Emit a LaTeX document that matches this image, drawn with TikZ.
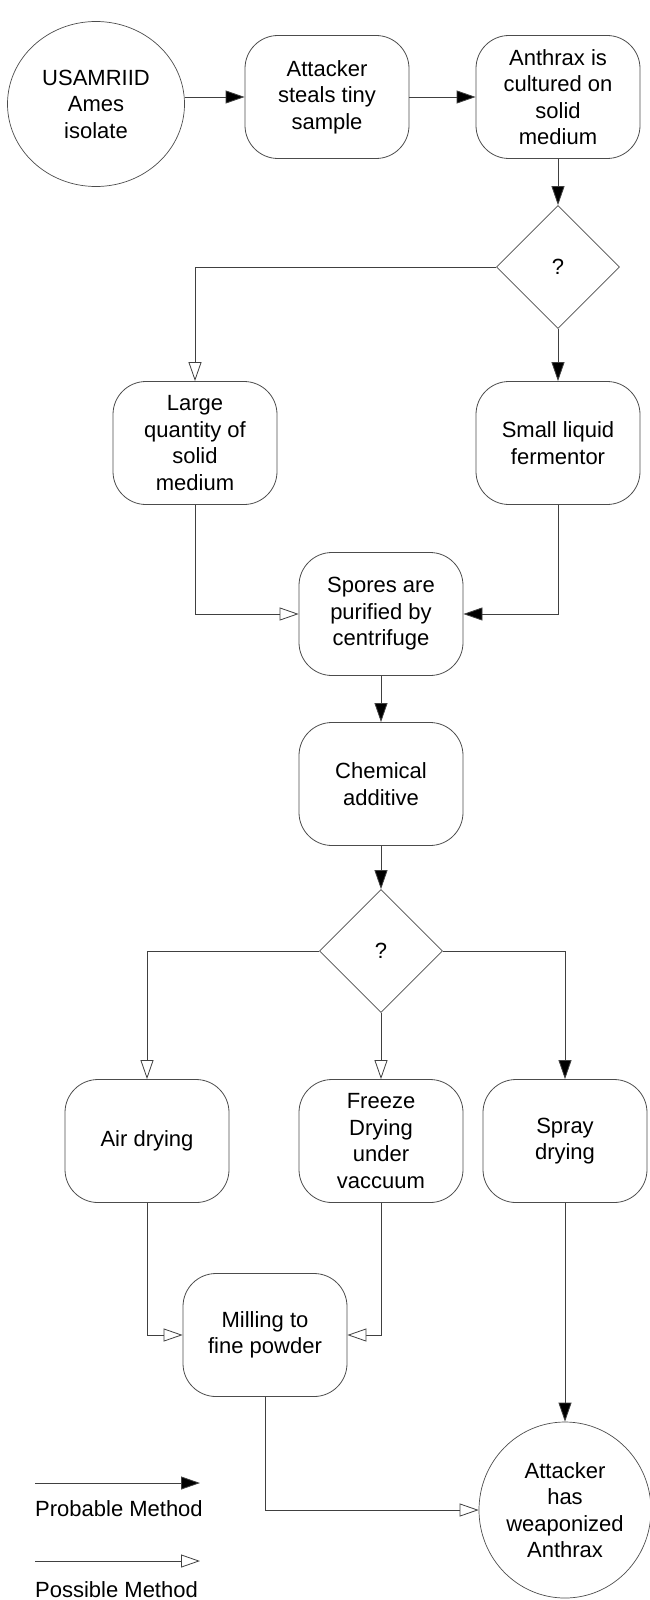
\documentclass[tikz,border=0pt]{standalone}
\usepackage{fontspec}
\setmainfont{Liberation Sans}
\usetikzlibrary{positioning, arrows.meta, shapes.geometric}

\newcommand{\flowfont}{\fontsize{22}{26.5}\selectfont}

\tikzset{
	stepbox/.style={draw=black!70, line width=0.8pt, rounded corners=33pt, minimum width=164pt, minimum height=123pt, align=center, inner sep=0pt, font=\flowfont},
	startend/.style={ellipse, draw=black!70, line width=0.7pt, align=center, inner sep=0pt, font=\flowfont},
	choice/.style={diamond, draw=black!70, line width=0.7pt, minimum width=123pt, minimum height=123pt, inner sep=0pt, font=\flowfont},
	probable/.style={draw=black!75, line width=0.8pt, -{Triangle[length=19pt, width=13pt, fill=black]}},
	possible/.style={draw=black!75, line width=0.8pt, -{Triangle[open, length=19pt, width=13pt, fill=white]}},
	legendtext/.style={anchor=west, inner sep=0pt, font=\flowfont},
}

\begin{document}
\begin{tikzpicture}[x=1pt, y=-1pt]
	\useasboundingbox (0,0) rectangle (650,1600);
	% first row
	\node[startend, minimum width=177pt, minimum height=165pt] (ames) at (96,104) {USAMRIID\\Ames\\isolate};
	\node[stepbox] (steal) at (327,97) {Attacker\\steals tiny\\sample};
	\node[stepbox] (culture) at (558,97) {Anthrax is\\cultured on\\solid\\medium};
	\node[choice] (q1) at (558,267) {?};
	% growing
	\node[stepbox] (large) at (195,443) {Large\\quantity of\\solid\\medium};
	\node[stepbox] (ferment) at (558,443) {Small liquid\\fermentor};
	\node[stepbox] (spores) at (381,614) {Spores are\\purified by\\centrifuge};
	\node[stepbox] (chem) at (381,784) {Chemical\\additive};
	\node[choice] (q2) at (381,951) {?};
	% drying
	\node[stepbox] (air) at (147,1141) {Air drying};
	\node[stepbox] (freeze) at (381,1141) {Freeze\\Drying\\under\\vaccuum};
	\node[stepbox] (spray) at (565,1141) {Spray\\drying};
	\node[stepbox] (mill) at (265,1335) {Milling to\\fine powder};
	\node[startend, minimum width=172pt, minimum height=176pt] (done) at (565,1510) {Attacker\\has\\weaponized\\Anthrax};

	\draw[probable] (ames.east |- steal) -- (steal);
	\draw[probable] (steal) -- (culture);
	\draw[probable] (culture) -- (q1);
	\draw[possible] (q1.west) -| (large);
	\draw[probable] (q1) -- (ferment);
	\draw[possible] (large) |- (spores);
	\draw[probable] (ferment) |- (spores);
	\draw[probable] (spores) -- (chem);
	\draw[probable] (chem) -- (q2);
	\draw[possible] (q2.west) -| (air);
	\draw[possible] (q2) -- (freeze);
	\draw[probable] (q2.east) -| (spray);
	\draw[possible] (air) |- (mill);
	\draw[possible] (freeze) |- (mill);
	\draw[possible] (mill) |- (done);
	\draw[probable] (spray) -- (done);

	% legend
	\coordinate (probA) at (35,1483);
	\coordinate (probB) at (200,1483);
	\coordinate (possA) at (35,1561);
	\coordinate (possB) at (200,1561);
	\draw[probable] (probA) -- (probB);
	\node[legendtext] (probtxt) at (35,1509) {Probable Method};
	\draw[possible] (possA) -- (possB);
	\node[legendtext] (posstxt) at (35,1590) {Possible Method};
\end{tikzpicture}
\end{document}
